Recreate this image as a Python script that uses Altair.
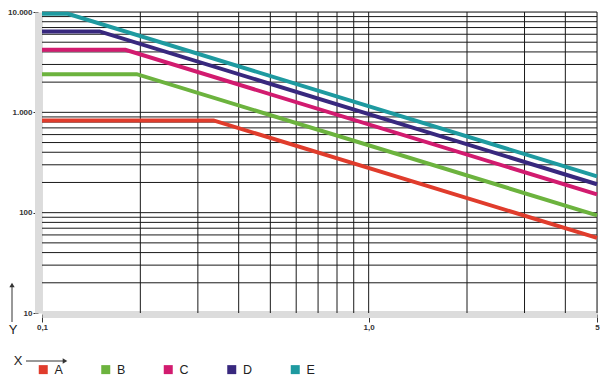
import altair as alt
import pandas as pd

# ---- data ----
series = ["A", "B", "C", "D", "E"]
colors = ["#e03c2c", "#6cb33e", "#d21b6f", "#38287e", "#1e9aa0"]
x_points = {
    "A": [0.1, 0.335, 5],
    "B": [0.1, 0.195, 5],
    "C": [0.1, 0.18, 5],
    "D": [0.1, 0.15, 5],
    "E": [0.1, 0.12, 5],
}
y_points = {
    "A": [830, 830, 56],
    "B": [2400, 2400, 94],
    "C": [4200, 4200, 152],
    "D": [6400, 6400, 192],
    "E": [9600, 9600, 230],
}
x_grid = [0.2, 0.3, 0.4, 0.5, 0.6, 0.7, 0.8, 0.9, 1, 2, 3, 4, 5]
y_grid = [20, 30, 40, 50, 60, 70, 80, 90,
          100, 200, 300, 400, 500, 600, 700, 800, 900,
          1000, 2000, 3000, 4000, 5000, 6000, 7000, 8000, 9000, 10000]
x_ticks = [0.1, 1, 5]
y_ticks = [10, 100, 1000, 10000]

rows = []
for s in series:
    for xv, yv in zip(x_points[s], y_points[s]):
        rows.append({"series": s, "x": xv, "y": yv})
df = pd.DataFrame(rows)

xscale = alt.Scale(type="log", domain=[0.1, 5], nice=False)
yscale = alt.Scale(type="log", domain=[10, 10000], nice=False)

FONT = "Liberation Sans"

vgrid = alt.Chart(pd.DataFrame({"x": x_grid})).mark_rule(
    color="#1a1a1a", strokeWidth=1
).encode(x=alt.X("x:Q", scale=xscale))

hgrid = alt.Chart(pd.DataFrame({"y": y_grid})).mark_rule(
    color="#1a1a1a", strokeWidth=1
).encode(y=alt.Y("y:Q", scale=yscale))

lines = alt.Chart(df).mark_line(strokeWidth=4, strokeCap="butt").encode(
    x=alt.X(
        "x:Q",
        scale=xscale,
        axis=alt.Axis(
            values=x_ticks,
            labelExpr="datum.value == 0.1 ? '0,1' : datum.value == 1 ? '1,0' : '5'",
            title=None,
            grid=False,
            domainColor="#dcdcdc",
            domainWidth=7,
            offset=1,
            tickColor="#333333",
            tickSize=8,
            labelFont=FONT,
            labelFontSize=8,
            labelFontWeight="bold",
            labelColor="#333333",
            labelPadding=1,
            labelFlush=False,
        ),
    ),
    y=alt.Y(
        "y:Q",
        scale=yscale,
        axis=alt.Axis(
            values=y_ticks,
            labelExpr="datum.value == 10000 ? '10.000' : datum.value == 1000 ? '1.000' : datum.value == 100 ? '100' : '10'",
            title=None,
            grid=False,
            domainColor="#dcdcdc",
            domainWidth=7,
            offset=4,
            tickColor="#333333",
            tickSize=5,
            labelFont=FONT,
            labelFontSize=8,
            labelFontWeight="bold",
            labelColor="#333333",
            labelPadding=1,
        ),
    ),
    color=alt.Color(
        "series:N",
        scale=alt.Scale(domain=series, range=colors),
        legend=alt.Legend(
            title=None,
            orient="none",
            legendX=-5,
            legendY=351,
            direction="horizontal",
            symbolType="square",
            symbolSize=4,
            symbolStrokeWidth=7,
            symbolOpacity=1,
            labelFont=FONT,
            labelFontSize=12.5,
            labelColor="#222222",
            labelOffset=5,
            columnPadding=27.5,
            padding=0,
        ),
    ),
    detail="series:N",
)

# decorative axis-direction markers (X / Y arrows)
y_arrow = alt.Chart(pd.DataFrame({"k": [0]})).mark_rule(color="#333333", strokeWidth=1).encode(
    x=alt.value(-30), y=alt.value(274), y2=alt.value(310)
)
y_head = alt.Chart(pd.DataFrame({"k": [0]})).mark_point(
    shape="triangle-up", filled=True, color="#333333", size=28, opacity=1
).encode(x=alt.value(-30), y=alt.value(273))
x_arrow = alt.Chart(pd.DataFrame({"k": [0]})).mark_rule(color="#333333", strokeWidth=1).encode(
    x=alt.value(-16), x2=alt.value(22), y=alt.value(349)
)
x_head = alt.Chart(pd.DataFrame({"k": [0]})).mark_point(
    shape="triangle-right", filled=True, color="#333333", size=28, opacity=1
).encode(x=alt.value(23), y=alt.value(349))
y_text = alt.Chart(pd.DataFrame({"t": ["Y"]})).mark_text(
    font=FONT, fontSize=13, color="#222222", align="center", baseline="middle"
).encode(text="t:N", x=alt.value(-29), y=alt.value(318))
x_text = alt.Chart(pd.DataFrame({"t": ["X"]})).mark_text(
    font=FONT, fontSize=13, color="#222222", align="center", baseline="middle"
).encode(text="t:N", x=alt.value(-24), y=alt.value(349))

chart = alt.layer(
    vgrid, hgrid, lines, y_arrow, y_head, x_arrow, x_head, y_text, x_text
).properties(
    width=555,
    height=301,
    autosize=alt.AutoSizeParams(type="none"),
    padding={"left": 34, "top": 4, "right": 3, "bottom": 64},
).configure_view(stroke=None).configure(background="white")

chart.save("out.html", embed_options={"renderer": "svg", "actions": False})
